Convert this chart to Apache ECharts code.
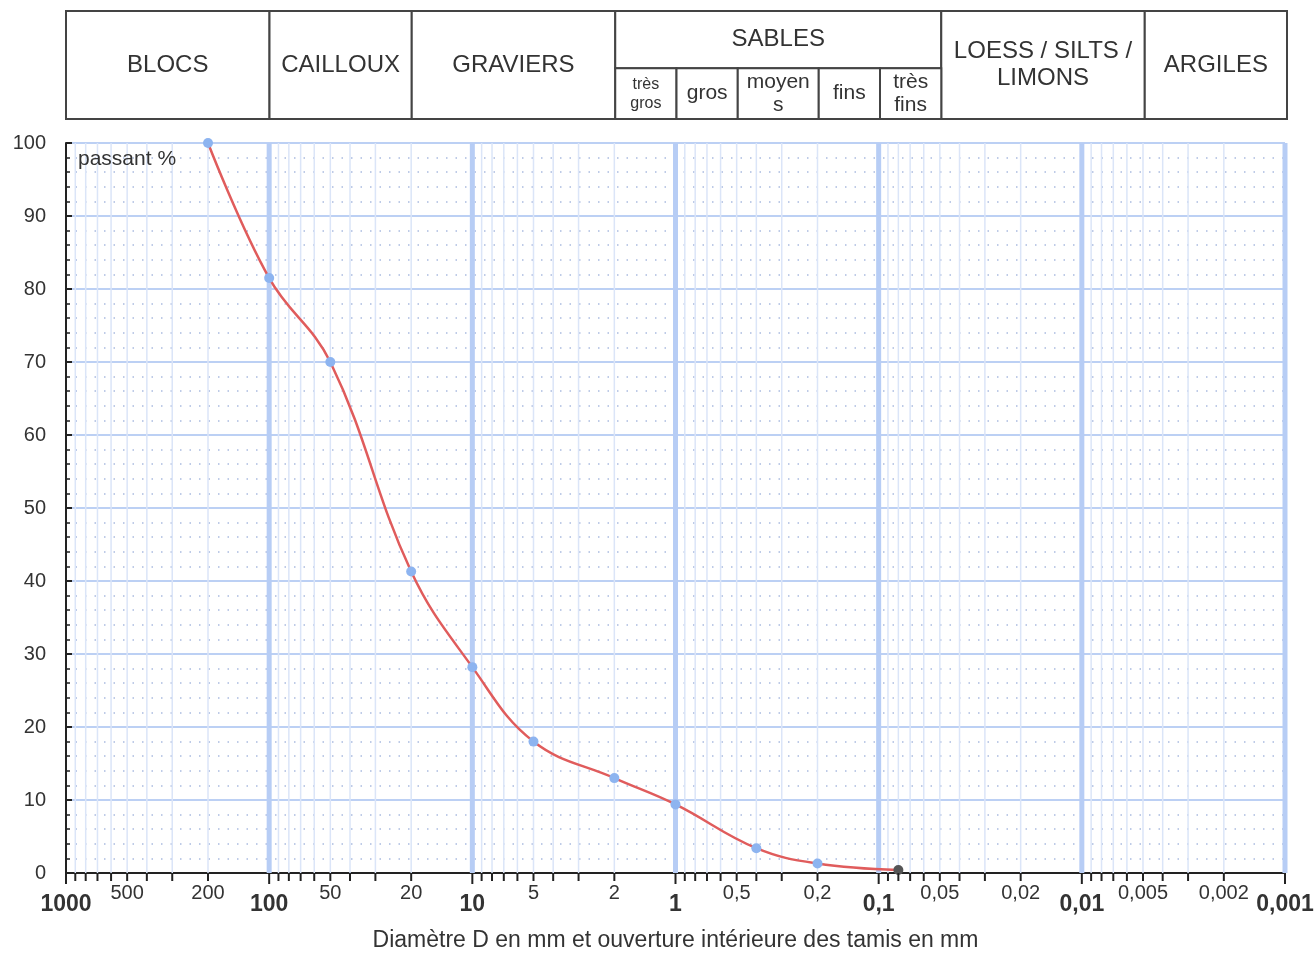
<!DOCTYPE html>
<html><head><meta charset="utf-8">
<script src="https://cdn.jsdelivr.net/npm/echarts@6/dist/echarts.min.js"></script>
<style>html,body{margin:0;padding:0;background:#fff}#c{width:1316px;height:957px}</style>
</head><body><div id="c"></div>
<script>
// ---- data ----
const diameters = [200, 100, 50, 20, 10, 5, 2, 1, 0.4, 0.2, 0.08];
const passing   = [100, 81.5, 70, 41.3, 28.2, 18, 13, 9.4, 3.4, 1.3, 0.4];
const decadeTicks = [1000, 100, 10, 1, 0.1, 0.01, 0.001];
const labeledTicks = [500, 200, 50, 20, 5, 2, 0.5, 0.2, 0.05, 0.02, 0.005, 0.002];
const tickMultiples = [2, 3, 4, 5, 6, 7, 8, 9];
const mainClasses = ['BLOCS', 'CAILLOUX', 'GRAVIERS', 'SABLES', 'LOESS / SILTS /\nLIMONS', 'ARGILES'];
const mainBounds  = [[1000, 100], [100, 20], [20, 2], [2, 0.05], [0.05, 0.005], [0.005, 0.001]];
const sandClasses = ['très\ngros', 'gros', 'moyen\ns', 'fins', 'très\nfins'];
const sandBounds  = [[2, 1], [1, 0.5], [0.5, 0.2], [0.2, 0.1], [0.1, 0.05]];

const FF = 'Liberation Sans, Arial, sans-serif';
const SPLIT = 0.53;

// header cells
const cells = [];
mainClasses.forEach((t, i) => {
  const sab = t === 'SABLES';
  cells.push({x0: mainBounds[i][0], x1: mainBounds[i][1], y0: 0, y1: sab ? SPLIT : 1, label: t,
    fs: 24, lh: 27});
});
sandClasses.forEach((t, i) => {
  const small = i === 0;
  cells.push({x0: sandBounds[i][0], x1: sandBounds[i][1], y0: SPLIT, y1: 1, label: t,
    fs: small ? 16 : 21, lh: small ? 19 : 23});
});

// grid line values (axis scale lines)
const vLines = [];
decadeTicks.forEach((d, i) => {
  vLines.push([d, 1]);
  if (i > 0) tickMultiples.forEach(m => vLines.push([d * m, 0]));
});

const fmt = v => String(v).replace('.', ',');

const chart = echarts.init(document.getElementById('c'));
chart.setOption({
  animation: false,
  backgroundColor: '#fff',
  grid: [
    {left: 66, right: 31, top: 143, bottom: 77},
    {left: 66, right: 29, top: 11, height: 108}
  ],
  xAxis: [
    {type: 'log', logBase: 10, min: 0.001, max: 1000, inverse: true, gridIndex: 0,
     axisLine: {show: true, onZero: false, lineStyle: {color: '#222', width: 2}},
     axisTick: {show: false}, axisLabel: {show: false}, splitLine: {show: false},
     name: 'Diamètre D en mm et ouverture intérieure des tamis en mm',
     nameLocation: 'middle', nameGap: 56,
     nameTextStyle: {fontSize: 23, color: '#333', fontFamily: FF}},
    {type: 'log', logBase: 10, min: 0.001, max: 1000, inverse: true, gridIndex: 1, show: false}
  ],
  yAxis: [
    {type: 'value', min: 0, max: 100, interval: 10, gridIndex: 0,
     axisLine: {show: true, lineStyle: {color: '#222', width: 2}},
     axisTick: {show: true, inside: true, length: 6, lineStyle: {color: '#222', width: 2}},
     minorTick: {show: true, splitNumber: 5, length: 4, lineStyle: {color: '#222', width: 1.5}},
     axisLabel: {fontSize: 20, color: '#333', margin: 20, fontFamily: FF},
     splitLine: {show: true, lineStyle: {color: '#bcd0f4', width: 2}},
     minorSplitLine: {show: true, lineStyle: {color: '#a9bbe0', type: [1.5, 8], width: 1.5}}},
    {type: 'value', min: 0, max: 1, inverse: true, gridIndex: 1, show: false}
  ],
  graphic: [
    {type: 'text', left: 78, top: 149, z: 10,
     style: {text: 'passant %', fontSize: 21, fill: '#333', fontFamily: FF}}
  ],
  series: [
    { // header table
      type: 'custom', xAxisIndex: 1, yAxisIndex: 1, silent: true,
      data: cells.map(c => [c.x0, c.x1, c.y0, c.y1]),
      encode: {x: [0, 1], y: [2, 3]},
      clip: false,
      renderItem: (params, api) => {
        const c = cells[params.dataIndex];
        const p0 = api.coord([c.x0, c.y0]);
        const p1 = api.coord([c.x1, c.y1]);
        return {type: 'group', children: [
          {type: 'rect', shape: {x: Math.min(p0[0], p1[0]), y: Math.min(p0[1], p1[1]),
            width: Math.abs(p1[0] - p0[0]), height: Math.abs(p1[1] - p0[1])},
           style: {fill: '#fff', stroke: '#444', lineWidth: 2}},
          {type: 'text', x: (p0[0] + p1[0]) / 2, y: (p0[1] + p1[1]) / 2,
           style: {text: c.label, fontSize: c.fs, lineHeight: c.lh, fill: '#333', fontFamily: FF,
             align: 'center', verticalAlign: 'middle'}}
        ]};
      }
    },
    { // vertical grid lines
      type: 'custom', xAxisIndex: 0, yAxisIndex: 0, silent: true, z: 1,
      data: vLines, encode: {x: 0}, clip: false,
      renderItem: (params, api) => {
        const v = api.value(0), major = api.value(1) === 1;
        if (v === 1000) return null;
        const a = api.coord([v, 0]), b = api.coord([v, 100]);
        return {type: 'line', shape: {x1: a[0], y1: a[1], x2: b[0], y2: b[1]},
          style: {stroke: major ? '#b7cdf5' : '#dbe5f8', lineWidth: major ? 5 : 1.5}};
      }
    },
    { // x ticks and labels
      type: 'custom', xAxisIndex: 0, yAxisIndex: 0, silent: true, z: 6,
      data: vLines, encode: {x: 0}, clip: false,
      renderItem: (params, api) => {
        const v = api.value(0), major = api.value(1) === 1;
        const a = api.coord([v, 0]);
        const ch = [{type: 'line', shape: {x1: a[0], y1: a[1], x2: a[0], y2: a[1] + (major ? 11 : 8)},
          style: {stroke: '#222', lineWidth: 2}}];
        const isLab = labeledTicks.some(t => Math.abs(t - v) / t < 1e-6);
        if (major || isLab) {
          ch.push({type: 'text', x: a[0], y: a[1] + (major ? 32 : 20),
            style: {text: fmt(+v.toPrecision(6)), fontSize: major ? 23 : 20, fontWeight: major ? 'bold' : 'normal',
              fill: '#333', fontFamily: FF, align: 'center', verticalAlign: 'middle'}});
        }
        return {type: 'group', children: ch};
      }
    },
    { // grading curve
      type: 'line', xAxisIndex: 0, yAxisIndex: 0, z: 5,
      data: diameters.map((d, i) => ({value: [d, passing[i]],
        itemStyle: i === diameters.length - 1 ? {color: '#555'} : undefined})),
      smooth: 0.4, symbol: 'circle', symbolSize: 10, showAllSymbol: true,
      lineStyle: {color: '#e05c5c', width: 2.5},
      itemStyle: {color: '#8db4f0'}
    }
  ]
});
</script></body></html>
